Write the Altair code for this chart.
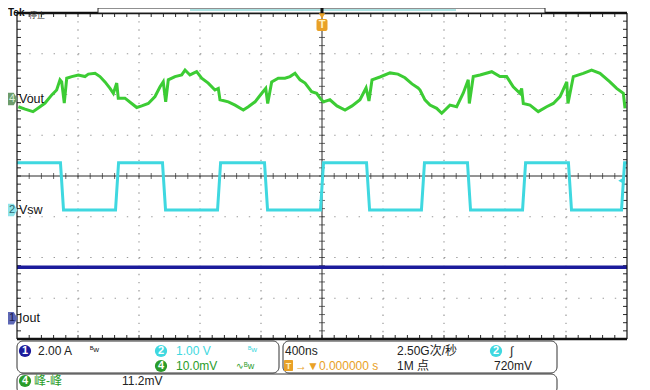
import altair as alt
import pandas as pd

# ---------------- data read from the screen ----------------
# time axis: ns (400 ns/div, 10 div, trigger at 0)
# CH4 Vout, AC ripple in mV relative to its channel marker (10 mV/div)
vout_t = [-1991, -1947, -1895, -1849, -1816, -1772, -1740, -1718, -1707, -1690,
          -1674, -1641, -1598, -1554, -1532, -1488, -1456, -1423, -1390, -1368,
          -1346, -1336, -1292, -1248, -1215, -1182, -1139, -1095, -1062, -1041,
          -1025, -1008, -964, -920, -898, -866, -822, -789, -746, -702,
          -680, -669, -614, -570, -516, -483, -439, -395, -369, -356,
          -330, -287, -243, -210, -177, -144, -111, -68, -35, -13,
          9, 52, 98, 151, 197, 249, 289, 308, 328, 380,
          446, 498, 544, 590, 630, 643, 675, 708, 752, 785,
          839, 883, 926, 959, 966, 992, 1036, 1113, 1167, 1211,
          1254, 1298, 1309, 1320, 1364, 1418, 1473, 1517, 1561, 1605,
          1613, 1648, 1713, 1768, 1823, 1888, 1932, 1976, 1987]
vout_mv = [-1.9, -2.5, -3.1, -1.9, -1.0, 1.0, 2.2, 4.7, 4.2, -1.0,
           5.1, 5.5, 5.9, 5.5, 6.1, 6.3, 5.5, 4.2, 2.6, 1.4,
           3.9, 0.2, 0.2, -1.1, -2.1, -1.7, -1.1, 0.6, 3.0, 4.2,
           -0.7, 4.7, 5.5, 5.9, 7.1, 5.9, 6.7, 5.1, 3.9, 2.2,
           2.6, -0.2, -0.7, -1.5, -2.7, -1.9, -0.7, 1.4, 2.6, -1.1,
           4.2, 5.1, 5.1, 5.5, 6.3, 4.7, 3.9, 1.8, 1.4, 0.2,
           -0.7, -0.2, -1.7, -2.7, -1.7, -0.2, 2.7, -0.5, 4.7, 5.4,
           6.4, 6.1, 5.2, 3.7, 2.7, 2.2, -0.2, -1.5, -2.3, -3.5,
           -1.5, -1.9, 1.4, 4.7, -1.1, 5.5, 5.9, 6.7, 5.5, 5.5,
           3.0, 1.4, 2.6, -1.1, -1.5, -3.1, -1.9, -1.1, 0.6, 4.2,
           -1.1, 5.5, 6.3, 7.1, 6.3, 4.2, 2.6, 1.4, -2.3]

# CH2 Vsw, volts (1.00 V/div)
vsw_t = [-2000, -1715, -1695, -1354, -1334, -1046, -1026, -685, -665, -377, -357,
         -10, 10, 292, 312, 652, 672, 954, 974, 1315, 1335, 1616, 1636, 1964, 1984, 2000]
vsw_v = [1.16, 1.16, 0.0, 0.0, 1.16, 1.16, 0.0, 0.0, 1.16, 1.16, 0.0,
         0.0, 1.16, 1.16, 0.0, 0.0, 1.16, 1.16, 0.0, 0.0, 1.16, 1.16, 0.0, 0.0, 1.16, 1.16]

# CH1 Iout, amps (2.00 A/div)
iout_t = [-2000, 2000]
iout_a = [2.5, 2.5]

# ---------------- scope settings ----------------
NS_PER_DIV = 400
VOUT_POS, VOUT_SCALE = 1.89, 10.0
VSW_POS, VSW_SCALE = -0.834, 1.0
IOUT_POS, IOUT_SCALE = -3.49, 2.0
TRIG_LEVEL = 0.72

GREEN = "#3ccc34"
CYAN = "#3fd8e0"
NAVY = "#1c1c9c"
ORANGE = "#e9a126"
FONT = "Liberation Sans Narrow, Liberation Sans, Noto Sans CJK SC, sans-serif"

W, H = 610, 326
X0, Y0 = 17, 13  # page position of the graticule

xs = alt.Scale(domain=[-5 * NS_PER_DIV, 5 * NS_PER_DIV], nice=False, zero=False)
ys = alt.Scale(domain=[-4, 4], nice=False, zero=False)
X = lambda f: alt.X(f, type="quantitative", scale=xs, axis=None)
Y = lambda f: alt.Y(f, type="quantitative", scale=ys, axis=None)
PX = lambda f: alt.X(f, type="quantitative", scale=None)
PY = lambda f: alt.Y(f, type="quantitative", scale=None)

# ---------------- graticule ----------------
vdiv = pd.DataFrame({"t": [k * NS_PER_DIV for k in range(-4, 5) if k != 0]})
hdiv = pd.DataFrame({"d": [k for k in range(-3, 4) if k != 0]})
grid_v = alt.Chart(vdiv).mark_rule(color="#9a9a9a", strokeWidth=1.2, strokeDash=[1.4, 6.75]).encode(
    x=X("t"), y=alt.value(0), y2=alt.value(H))
grid_h = alt.Chart(hdiv).mark_rule(color="#9a9a9a", strokeWidth=1.2, strokeDash=[1.4, 10.8]).encode(
    y=Y("d"), x=alt.value(0), x2=alt.value(W))

minor_t = pd.DataFrame({"t": [k * NS_PER_DIV / 5 for k in range(-24, 25)]})
minor_d = pd.DataFrame({"d": [k / 5 for k in range(-19, 20)]})
center = pd.DataFrame({"t": [0], "d": [0]})
c_v = alt.Chart(center).mark_rule(color="#2a2a2a", strokeWidth=1).encode(x=X("t"), y=alt.value(0), y2=alt.value(H))
c_h = alt.Chart(center).mark_rule(color="#2a2a2a", strokeWidth=1).encode(y=Y("d"), x=alt.value(0), x2=alt.value(W))
tick_h = alt.Chart(minor_t).mark_tick(color="#2a2a2a", orient="vertical", size=6, thickness=1).encode(
    x=X("t"), y=alt.value(H / 2))
tick_v = alt.Chart(minor_d).mark_tick(color="#2a2a2a", orient="horizontal", size=6, thickness=1).encode(
    y=Y("d"), x=alt.value(W / 2))
tick_top = alt.Chart(minor_t).mark_rule(color="#2a2a2a").encode(x=X("t"), y=alt.value(0), y2=alt.value(4))
tick_bot = alt.Chart(minor_t).mark_rule(color="#2a2a2a").encode(x=X("t"), y=alt.value(H - 4), y2=alt.value(H))
tick_l = alt.Chart(minor_d).mark_rule(color="#2a2a2a").encode(y=Y("d"), x=alt.value(0), x2=alt.value(4))
tick_r = alt.Chart(minor_d).mark_rule(color="#2a2a2a").encode(y=Y("d"), x=alt.value(W - 4), x2=alt.value(W))

frame = pd.DataFrame({"x": [0, W, 0, 0], "x2": [0, W, W, W], "y": [0, 0, 0, H], "y2": [H, H, 0, H],
                      "w": [1.2, 1.2, 2.4, 2.6]})
frame_l = alt.Chart(frame).mark_rule(color="#111").encode(
    x=PX("x"), x2="x2", y=PY("y"), y2="y2", strokeWidth=alt.StrokeWidth("w:Q", scale=None))

# ---------------- waveforms ----------------
d_vout = pd.DataFrame({"t": vout_t, "v": vout_mv})
d_vout["d"] = VOUT_POS + d_vout["v"] / VOUT_SCALE
d_vsw = pd.DataFrame({"t": vsw_t, "v": vsw_v})
d_vsw["d"] = VSW_POS + d_vsw["v"] / VSW_SCALE
d_iout = pd.DataFrame({"t": iout_t, "v": iout_a})
d_iout["d"] = IOUT_POS + d_iout["v"] / IOUT_SCALE

w_vout = alt.Chart(d_vout).mark_line(color=GREEN, strokeWidth=3, strokeJoin="miter").encode(
    x=X("t"), y=Y("d"), order="t:Q")
w_vsw = alt.Chart(d_vsw).mark_line(color=CYAN, strokeWidth=3).encode(x=X("t"), y=Y("d"), order="t:Q")
w_iout = alt.Chart(d_iout).mark_line(color=NAVY, strokeWidth=3.4).encode(x=X("t"), y=Y("d"), order="t:Q")

# ---------------- channel markers ----------------
mk = pd.DataFrame({"d": [VOUT_POS, VSW_POS, IOUT_POS], "n": ["4", "2", "1"],
                   "lab": ["Vout", "Vsw", "Iout"],
                   "fill": ["#6c9c6c", "#8fe4ea", "#5d68b6"], "tc": ["#d8f0d8", "#2c6870", "#1a1a50"]})
arrow = "M -1 -1.25 L 0.25 -1.25 L 1 0 L 0.25 1.25 L -1 1.25 Z"
mk_shape = alt.Chart(mk).mark_point(shape=arrow, filled=True, opacity=1, size=100).encode(
    y=Y("d"), x=alt.value(-4.5), fill=alt.Fill("fill:N", scale=None))
mk_num = alt.Chart(mk).mark_text(font=FONT, fontSize=11, dx=0).encode(
    y=Y("d"), x=alt.value(-5), text="n:N", color=alt.Color("tc:N", scale=None))
mk_lab = alt.Chart(mk).mark_text(font="Liberation Sans", fontSize=12.5, align="left", color="#111").encode(
    y=Y("d"), x=alt.value(2), text="lab:N")

trig_lvl = pd.DataFrame({"d": [VSW_POS + TRIG_LEVEL]})
trig_mk = alt.Chart(trig_lvl).mark_point(shape="triangle-left", filled=True, color=CYAN, opacity=1, size=40).encode(
    y=Y("d"), x=alt.value(W - 6))

# ---------------- top strip ----------------
def P(x, y):
    return x - X0, y - Y0

top_box = pd.DataFrame([dict(zip(["x", "y"], P(98, 8))) | dict(zip(["x2", "y2"], P(545, 13)))])
top_box_l = alt.Chart(top_box).mark_rect(fill="white", stroke="#222", strokeWidth=1).encode(
    x=PX("x"), x2="x2", y=PY("y"), y2="y2")
rec_line = pd.DataFrame([dict(zip(["x", "y"], P(190, 10))) | {"x2": 456 - X0}])
rec_line_l = alt.Chart(rec_line).mark_rule(color="#8fd8d8", strokeWidth=1.6).encode(x=PX("x"), x2="x2", y=PY("y"))
trig_bar = pd.DataFrame([dict(zip(["x", "y"], P(322, 7))) | {"y2": 13 - Y0}])
trig_bar_l = alt.Chart(trig_bar).mark_rule(color="#111", strokeWidth=3).encode(x=PX("x"), y=PY("y"), y2="y2")
trig_pt = pd.DataFrame([dict(zip(["x", "y"], P(322, 16)))])
trig_pt_l = alt.Chart(trig_pt).mark_point(shape="triangle-down", filled=True, color=ORANGE, opacity=1, size=40).encode(
    x=PX("x"), y=PY("y"))
trig_t = pd.DataFrame([dict(zip(["x", "y"], P(316.5, 19))) | dict(zip(["x2", "y2"], P(327.5, 31)))])
trig_t_l = alt.Chart(trig_t).mark_rect(fill=ORANGE, cornerRadius=2).encode(x=PX("x"), x2="x2", y=PY("y"), y2="y2")
trig_tt = pd.DataFrame([dict(zip(["x", "y"], P(322, 25))) | {"s": "T"}])
trig_tt_l = alt.Chart(trig_tt).mark_text(font=FONT, fontSize=11, fontWeight="bold", color="#fff2c0").encode(
    x=PX("x"), y=PY("y"), text="s:N")

# ---------------- info panel ----------------
boxes = pd.DataFrame([
    dict(zip(["x", "y"], P(17, 341))) | dict(zip(["x2", "y2"], P(279, 373))),
    dict(zip(["x", "y"], P(283, 341))) | dict(zip(["x2", "y2"], P(557, 373))),
    dict(zip(["x", "y"], P(17, 374))) | dict(zip(["x2", "y2"], P(557, 394))),
])
boxes_l = alt.Chart(boxes).mark_rect(fill="white", stroke="#333", strokeWidth=1, cornerRadius=6).encode(
    x=PX("x"), x2="x2", y=PY("y"), y2="y2")

badges = pd.DataFrame([
    dict(zip(["x", "y"], P(25, 351))) | {"n": "1", "c": NAVY},
    dict(zip(["x", "y"], P(161, 351))) | {"n": "2", "c": CYAN},
    dict(zip(["x", "y"], P(161, 366))) | {"n": "4", "c": "#2a9c2a"},
    dict(zip(["x", "y"], P(496, 351))) | {"n": "2", "c": CYAN},
    dict(zip(["x", "y"], P(25, 381))) | {"n": "4", "c": "#2a9c2a"},
])
badge_c = alt.Chart(badges).mark_point(shape="circle", filled=True, opacity=1, size=150).encode(
    x=PX("x"), y=PY("y"), fill=alt.Fill("c:N", scale=None))
badge_n = alt.Chart(badges).mark_text(font=FONT, fontSize=11, fontWeight="bold", color="white").encode(
    x=PX("x"), y=PY("y"), text="n:N")

tsq = pd.DataFrame([dict(zip(["x", "y"], P(284, 360))) | dict(zip(["x2", "y2"], P(293, 371)))])
tsq_l = alt.Chart(tsq).mark_rect(fill=ORANGE, cornerRadius=1).encode(x=PX("x"), x2="x2", y=PY("y"), y2="y2")

texts = pd.DataFrame([
    dict(zip(["x", "y"], P(38, 351))) | {"s": "2.00 A", "c": "#222", "f": 12},
    dict(zip(["x", "y"], P(90, 350))) | {"s": "ᴮw", "c": "#222", "f": 8},
    dict(zip(["x", "y"], P(176, 351))) | {"s": "1.00 V", "c": CYAN, "f": 12},
    dict(zip(["x", "y"], P(248, 350))) | {"s": "ᴮw", "c": CYAN, "f": 8},
    dict(zip(["x", "y"], P(176, 366))) | {"s": "10.0mV", "c": "#2a9c2a", "f": 12},
    dict(zip(["x", "y"], P(236, 366))) | {"s": "∿ᴮw", "c": "#2a9c2a", "f": 9},
    dict(zip(["x", "y"], P(285, 351))) | {"s": "400ns", "c": "#222", "f": 12},
    dict(zip(["x", "y"], P(397, 351))) | {"s": "2.50G次/秒", "c": "#222", "f": 12},
    dict(zip(["x", "y"], P(510, 351))) | {"s": "∫", "c": "#222", "f": 12},
    dict(zip(["x", "y"], P(295, 366))) | {"s": "→▼0.000000 s", "c": ORANGE, "f": 12},
    dict(zip(["x", "y"], P(397, 366))) | {"s": "1M 点", "c": "#222", "f": 12},
    dict(zip(["x", "y"], P(494, 366))) | {"s": "720mV", "c": "#222", "f": 12},
    dict(zip(["x", "y"], P(34, 381))) | {"s": "峰-峰", "c": "#2a9c2a", "f": 12},
    dict(zip(["x", "y"], P(122, 381))) | {"s": "11.2mV", "c": "#222", "f": 12},
])
texts_l = alt.Chart(texts).mark_text(font=FONT, align="left", baseline="middle").encode(
    x=PX("x"), y=PY("y"), text="s:N", color=alt.Color("c:N", scale=None), size=alt.Size("f:Q", scale=None))

tsq_t = pd.DataFrame([dict(zip(["x", "y"], P(288.5, 366))) | {"s": "T"}])
tsq_t_l = alt.Chart(tsq_t).mark_text(font=FONT, fontSize=9, fontWeight="bold", color="#fff2c0").encode(
    x=PX("x"), y=PY("y"), text="s:N")

tek = pd.DataFrame([dict(zip(["x", "y"], P(8, 16))) | {"s": "Tek"}])
tek_l = alt.Chart(tek).mark_text(font="Liberation Sans", fontSize=10, fontWeight="bold", align="left",
                                 baseline="alphabetic", color="#111").encode(x=PX("x"), y=PY("y"), text="s:N")
stop = pd.DataFrame([dict(zip(["x", "y"], P(29, 17.5))) | {"s": "停止"}])
stop_l = alt.Chart(stop).mark_text(font="Noto Sans CJK SC", fontSize=8, align="left",
                                   baseline="alphabetic", color="#333").encode(x=PX("x"), y=PY("y"), text="s:N")

chart = alt.layer(
    grid_v, grid_h, c_v, c_h, tick_h, tick_v, tick_top, tick_bot, tick_l, tick_r,
    w_iout, w_vsw, w_vout, frame_l,
    mk_shape, mk_num, mk_lab, trig_mk,
    top_box_l, rec_line_l, trig_bar_l, trig_pt_l, trig_t_l, trig_tt_l,
    boxes_l, badge_c, badge_n, tsq_l, tsq_t_l, texts_l, tek_l, stop_l,
).properties(
    width=W, height=H,
    autosize=alt.AutoSizeParams(type="none"),
    padding={"left": X0 - 8, "top": Y0 - 8, "right": 15, "bottom": 390 - (Y0 + H)},
    background="white",
).configure_view(stroke=None)

chart.save("out.html", embed_options={"renderer": "svg", "actions": False})
